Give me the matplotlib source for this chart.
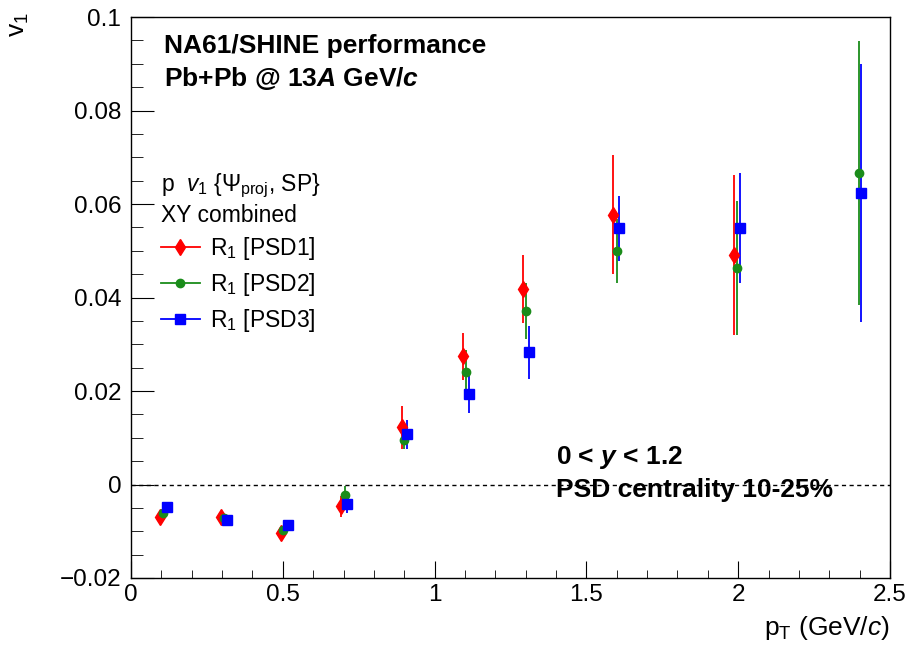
import matplotlib
matplotlib.use('Agg')
import matplotlib.pyplot as plt
from matplotlib.lines import Line2D
from matplotlib.ticker import MultipleLocator

plt.rcParams['font.family'] = ['Liberation Sans', 'DejaVu Sans']
plt.rcParams['mathtext.fontset'] = 'custom'
plt.rcParams['mathtext.rm'] = 'Liberation Sans'
plt.rcParams['mathtext.it'] = 'Liberation Sans:italic'
plt.rcParams['mathtext.bf'] = 'Liberation Sans:bold'
plt.rcParams['mathtext.bfit'] = 'Liberation Sans:bold:italic'

# data
pt_psd1 = [0.096, 0.298, 0.494, 0.691, 0.891, 1.094, 1.290, 1.586, 1.987]
v1_psd1 = [-0.0070, -0.0070, -0.0104, -0.0047, 0.0122, 0.0274, 0.0418, 0.0577, 0.0491]
err_psd1 = [0.0008, 0.0008, 0.0012, 0.0022, 0.0045, 0.0051, 0.0073, 0.0127, 0.0172]

pt_psd2 = [0.105, 0.305, 0.502, 0.705, 0.900, 1.103, 1.300, 1.601, 1.996, 2.397]
v1_psd2 = [-0.0061, -0.0072, -0.0098, -0.0022, 0.0095, 0.0240, 0.0371, 0.0500, 0.0463, 0.0666]
err_psd2 = [0.0007, 0.0007, 0.0010, 0.0019, 0.0020, 0.0048, 0.0060, 0.0068, 0.0143, 0.0282]

pt_psd3 = [0.118, 0.316, 0.516, 0.713, 0.910, 1.113, 1.311, 1.607, 2.007, 2.403]
v1_psd3 = [-0.0049, -0.0076, -0.0086, -0.0042, 0.0107, 0.0193, 0.0283, 0.0548, 0.0548, 0.0623]
err_psd3 = [0.0007, 0.0007, 0.0011, 0.0019, 0.0030, 0.0040, 0.0057, 0.0069, 0.0118, 0.0276]

labels = ['R$_1$ [PSD1]', 'R$_1$ [PSD2]', 'R$_1$ [PSD3]']
colors = ['#ff0000', '#1a8c1a', '#0000ff']
markers = ['d', 'o', 's']
msizes = [8, 6, 6.5]

fig = plt.figure(figsize=(9.06, 6.49), dpi=100)
ax = fig.add_axes([131/906, 1 - 578/649, (890 - 131)/906, (578 - 17)/649])

series = [(pt_psd1, v1_psd1, err_psd1), (pt_psd2, v1_psd2, err_psd2), (pt_psd3, v1_psd3, err_psd3)]
handles = []
for (x, y, e), lab, c, m, ms in zip(series, labels, colors, markers, msizes):
    ax.errorbar(x, y, yerr=e, fmt=m, color=c, ms=ms, mec=c, elinewidth=1.3, capsize=0)
    handles.append(Line2D([], [], color=c, marker=m, ms=ms, lw=1.3, label=lab))

ax.axhline(0, color='black', ls=(0, (3, 2.5)), lw=1)

ax.set_xlim(0, 2.5)
ax.set_ylim(-0.02, 0.1)
ax.xaxis.set_minor_locator(MultipleLocator(0.1))
ax.yaxis.set_minor_locator(MultipleLocator(0.005))
ax.set_xticks([0, 0.5, 1, 1.5, 2, 2.5])
ax.set_xticklabels(['0', '0.5', '1', '1.5', '2', '2.5'])
ax.set_yticks([-0.02, 0, 0.02, 0.04, 0.06, 0.08, 0.1])
ax.set_yticklabels(['\u22120.02', '0', '0.02', '0.04', '0.06', '0.08', '0.1'])
ax.tick_params(axis='both', which='both', direction='in', top=False, right=False, labelsize=17.5)
ax.tick_params(axis='x', which='major', length=12, pad=4)
ax.tick_params(axis='x', which='minor', length=6)
ax.tick_params(axis='y', which='major', length=16.5, pad=7)
ax.tick_params(axis='y', which='minor', length=8.5)
for s in ax.spines.values():
    s.set_linewidth(1.0)

fig.text(19/906, 1 - 12/649, 'v$_1$', rotation=90, ha='center', va='top', fontsize=19)
fig.text(890/906, 1 - 628/649, 'p$_{\\rm T}$ (GeV/$c$)', ha='right', va='center', fontsize=19)

ax.text(0.043, 0.948, 'NA61/SHINE performance', transform=ax.transAxes,
        fontsize=19, fontweight='bold', va='center')
ax.text(0.043, 0.891, 'Pb+Pb @ 13$\\mathbfit{A}$ GeV/$\\mathbfit{c}$', transform=ax.transAxes,
        fontsize=19, fontweight='bold', va='center')
ax.text(0.56, 0.215, '0 < $\\mathbfit{y}$ < 1.2', transform=ax.transAxes,
        fontsize=19, fontweight='bold', va='center')
ax.text(0.56, 0.156, 'PSD centrality 10-25%', transform=ax.transAxes,
        fontsize=19, fontweight='bold', va='center')

leg = ax.legend(handles=handles, loc='upper left', bbox_to_anchor=(0.012, 0.761),
                frameon=False, fontsize=16.5, handlelength=1.7, handletextpad=0.45,
                labelspacing=0.38, alignment='left',
                title='p  $\\mathit{v}_1$ {$\\Psi_{\\rm proj}$, SP}\nXY combined',
                title_fontsize=16.5)

fig.savefig('out.png', dpi=100)
